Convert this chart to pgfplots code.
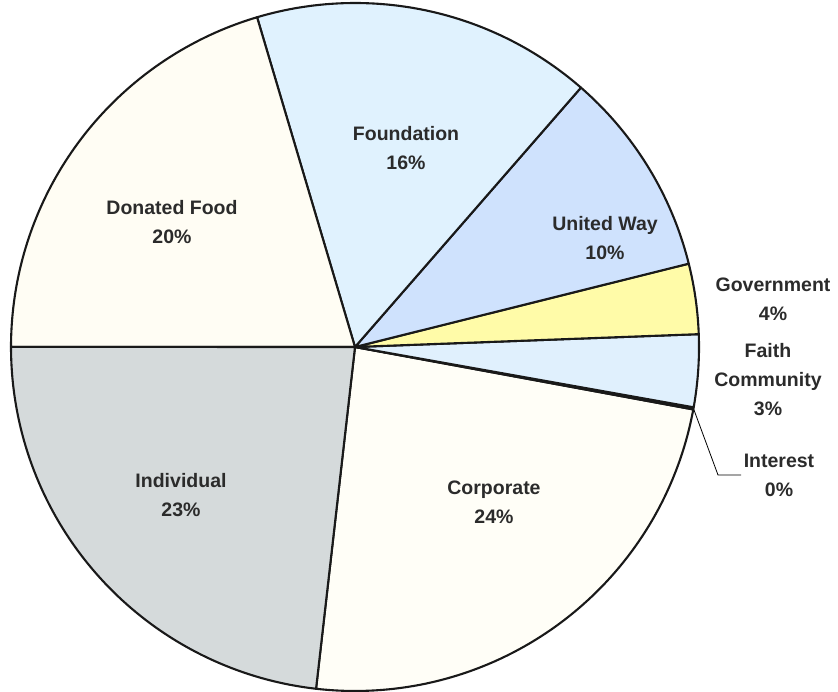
\documentclass[border=0pt]{standalone}
\usepackage{fontspec}
\setmainfont{Liberation Sans}
\usepackage{pgfplots}
\pgfplotsset{compat=1.18}
\usepackage{pgfplotstable}

\definecolor{corp}{HTML}{FFFEF7}
\definecolor{inter}{HTML}{FFFEF7}
\definecolor{faith}{HTML}{E0F0FD}
\definecolor{gov}{HTML}{FFFBA8}
\definecolor{uw}{HTML}{CFE2FD}
\definecolor{found}{HTML}{E0F2FE}
\definecolor{donfood}{HTML}{FFFDF4}
\definecolor{indiv}{HTML}{D5DADB}
\definecolor{txt}{HTML}{2B2B2B}

% share of each source, in percent, counter-clockwise from the start angle
\pgfplotstableread[col sep=comma]{
name,value,col
Corporate,23.9,corp
Interest,0.1,inter
Faith Community,3.4,faith
Government,3.3,gov
United Way,9.7,uw
Foundation,16.0,found
Donated Food,20.4,donfood
Individual,23.2,indiv
}\shares

\newcommand\slice[3]{%
  \addplot[draw=black!90, line width=2.1pt, line join=round, fill=#3,
    domain=#1:#2, samples=80]
    ({355+344*cos(x)},{344+344*sin(x)}) -- (355,344) -- cycle;}

\begin{document}
\begin{tikzpicture}
\begin{axis}[
  name=ax,
  width=838pt, height=691pt, scale only axis,
  xmin=0, xmax=838, ymin=0, ymax=691,
  hide axis, clip=false,
]
\xdef\cur{-96.5}
\pgfplotstablegetrowsof{\shares}
\pgfmathtruncatemacro\nrows{\pgfplotsretval-1}
\pgfplotsforeachungrouped \i in {0,...,\nrows}{
  \pgfplotstablegetelem{\i}{value}\of\shares
  \pgfmathsetmacro\tmp{\cur+3.6*\pgfplotsretval}
  \xdef\nxt{\tmp}
  \pgfplotstablegetelem{\i}{col}\of\shares
  \xdef\thecol{\pgfplotsretval}
  \edef\doit{\noexpand\slice{\cur}{\nxt}{\thecol}}\doit
  \xdef\cur{\nxt}
}
% leader line for Interest
\addplot[black, line width=0.8pt] coordinates {(694,281) (718,216) (741,216)};

\tikzset{lbl/.style={align=center, text=txt, font=\fontsize{19.5}{29}\selectfont\bfseries}}
\node[lbl] at (axis cs:406,543) {Foundation\\16\%};
\node[lbl] at (axis cs:172,469) {Donated Food\\20\%};
\node[lbl] at (axis cs:605,453) {United Way\\10\%};
\node[lbl] at (axis cs:773,392) {Government\\4\%};
\node[lbl] at (axis cs:768,311) {Faith\\Community\\3\%};
\node[lbl] at (axis cs:779,216) {Interest\\0\%};
\node[lbl] at (axis cs:494,189) {Corporate\\24\%};
\node[lbl] at (axis cs:181,196) {Individual\\23\%};
\end{axis}
\pgfresetboundingbox
\path (ax.south west) rectangle (ax.north east);
\end{tikzpicture}
\end{document}
